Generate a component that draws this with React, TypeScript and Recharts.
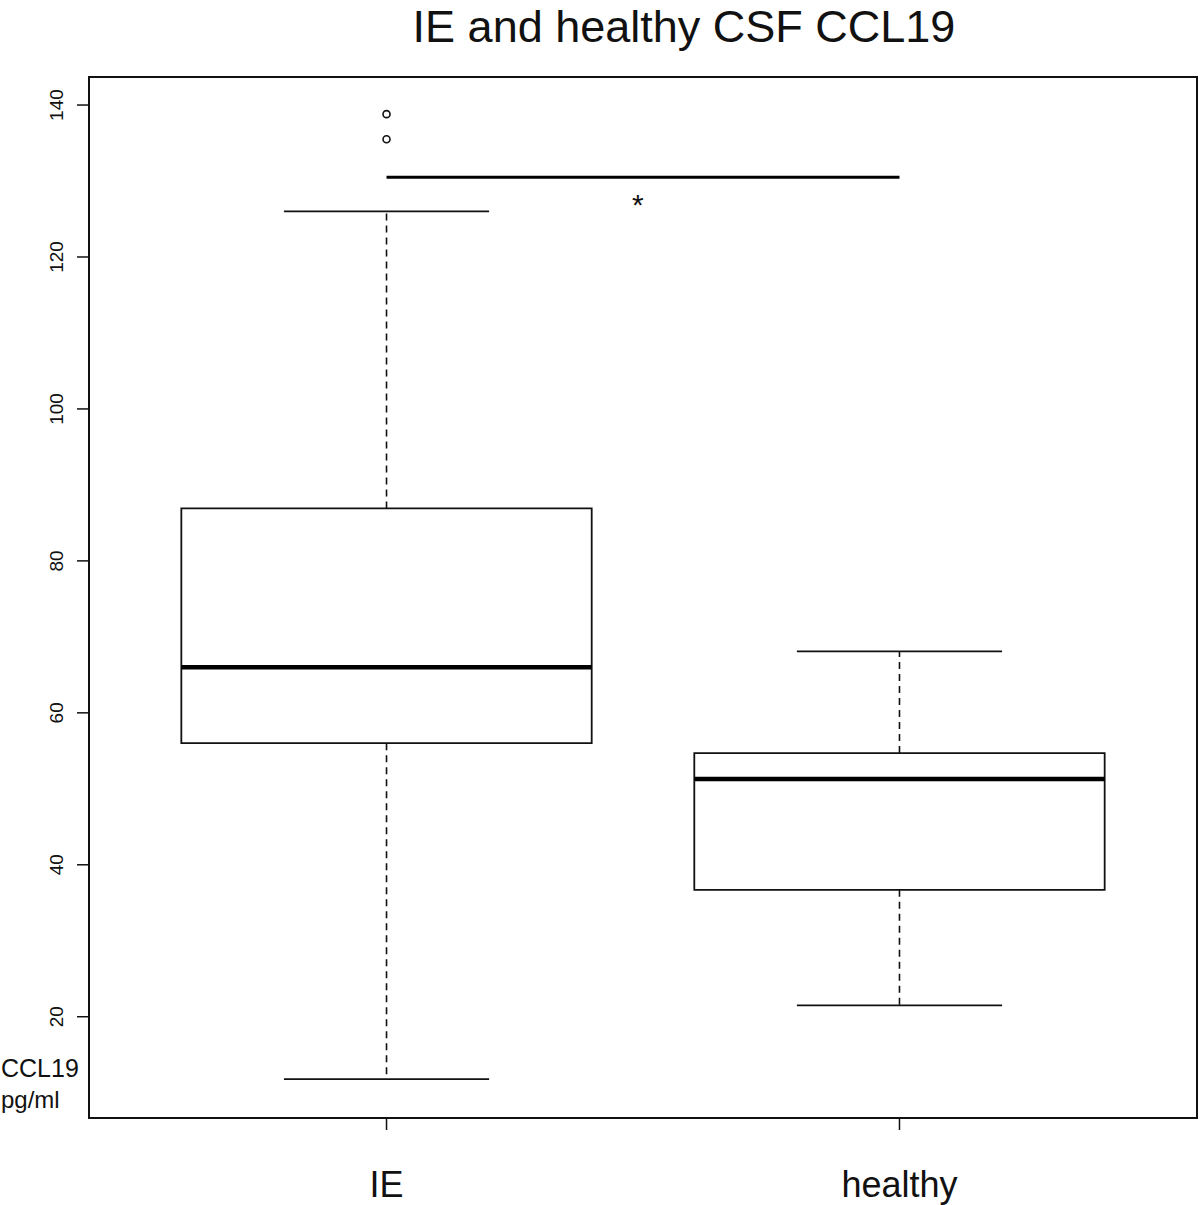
import React from 'react'
import {
  ComposedChart,
  XAxis,
  YAxis,
  Scatter,
  ReferenceArea,
  ReferenceLine,
  ReferenceDot
} from 'recharts'

// box statistics (pg/ml)
const categories = ['IE', 'healthy']
const positions = [1, 2]
const lowerWhisker = [11.8, 21.5]
const lowerQuartile = [56.0, 36.7]
const medians = [66.0, 51.3]
const upperQuartile = [86.9, 54.7]
const upperWhisker = [126.0, 68.1]
const outliers = [[138.8, 135.5], []]
const yTicks = [20, 40, 60, 80, 100, 120, 140]

// significance bar between the groups
const sigFrom = 1
const sigTo = 2
const sigValue = 130.5
const sigLabel = '*'

const X_DOMAIN = [0.42, 2.58]
const Y_DOMAIN = [6.67, 143.69]
const BOX_HALF = 0.4
const CAP_HALF = 0.2
const FONT = 'Liberation Sans, Arial, Helvetica, sans-serif'
const INK = '#111'

const outlierData = outliers.flatMap((vals, i) =>
  vals.map((v) => ({ x: positions[i], y: v }))
)

const YTick = (props: any) => {
  const { x, y, payload } = props
  const tx = x - 12
  return (
    <text
      x={tx}
      y={y}
      transform={`rotate(-90 ${tx} ${y})`}
      textAnchor='middle'
      fontSize={19}
      fontFamily={FONT}
      fill={INK}
    >
      {payload.value}
    </text>
  )
}

const XTick = (props: any) => {
  const { x, y, payload } = props
  return (
    <text
      x={x}
      y={y + 65}
      textAnchor='middle'
      fontSize={36}
      fontFamily={FONT}
      fill={INK}
    >
      {categories[payload.value - 1]}
    </text>
  )
}

const OpenCircle = (props: any) => {
  const { cx, cy } = props
  return <circle cx={cx} cy={cy} r={3.5} fill='none' stroke={INK} strokeWidth={1.6} />
}

export default function App() {
  return (
    <div style={{ position: 'absolute', left: 0, top: 0, width: 1200, height: 1205, background: '#fff' }}>
      <ComposedChart
        width={1200}
        height={1205}
        margin={{ top: 77, right: 3, bottom: 7, left: 9 }}
      >
        <XAxis
          type='number'
          dataKey='x'
          domain={X_DOMAIN}
          ticks={positions}
          allowDataOverflow
          axisLine={false}
          tickSize={12}
          tickLine={{ stroke: INK, strokeWidth: 1.5 }}
          tick={<XTick />}
          height={80}
        />
        <YAxis
          type='number'
          dataKey='y'
          domain={Y_DOMAIN}
          ticks={yTicks}
          allowDataOverflow
          axisLine={false}
          tickSize={12}
          tickLine={{ stroke: INK, strokeWidth: 1.5 }}
          tick={<YTick />}
          width={80}
        />
        <ReferenceArea
          x1={X_DOMAIN[0]}
          x2={X_DOMAIN[1]}
          y1={Y_DOMAIN[0]}
          y2={Y_DOMAIN[1]}
          fill='none'
          fillOpacity={0}
          stroke={INK}
          strokeWidth={2}
          ifOverflow='visible'
        />
        {positions.map((p, i) => (
          <ReferenceLine
            key={'wu' + i}
            segment={[{ x: p, y: upperQuartile[i] }, { x: p, y: upperWhisker[i] }]}
            stroke={INK}
            strokeWidth={1.6}
            strokeDasharray='7 5'
            ifOverflow='visible'
          />
        ))}
        {positions.map((p, i) => (
          <ReferenceLine
            key={'wl' + i}
            segment={[{ x: p, y: lowerQuartile[i] }, { x: p, y: lowerWhisker[i] }]}
            stroke={INK}
            strokeWidth={1.6}
            strokeDasharray='7 5'
            ifOverflow='visible'
          />
        ))}
        {positions.map((p, i) => (
          <ReferenceLine
            key={'cu' + i}
            segment={[{ x: p - CAP_HALF, y: upperWhisker[i] }, { x: p + CAP_HALF, y: upperWhisker[i] }]}
            stroke={INK}
            strokeWidth={1.8}
            ifOverflow='visible'
          />
        ))}
        {positions.map((p, i) => (
          <ReferenceLine
            key={'cl' + i}
            segment={[{ x: p - CAP_HALF, y: lowerWhisker[i] }, { x: p + CAP_HALF, y: lowerWhisker[i] }]}
            stroke={INK}
            strokeWidth={1.8}
            ifOverflow='visible'
          />
        ))}
        {positions.map((p, i) => (
          <ReferenceArea
            key={'box' + i}
            x1={p - BOX_HALF}
            x2={p + BOX_HALF}
            y1={lowerQuartile[i]}
            y2={upperQuartile[i]}
            fill='#fff'
            fillOpacity={1}
            stroke={INK}
            strokeWidth={1.8}
            ifOverflow='visible'
          />
        ))}
        {positions.map((p, i) => (
          <ReferenceLine
            key={'med' + i}
            segment={[{ x: p - BOX_HALF, y: medians[i] }, { x: p + BOX_HALF, y: medians[i] }]}
            stroke='#000'
            strokeWidth={4.5}
            ifOverflow='visible'
          />
        ))}
        <ReferenceLine
          segment={[{ x: sigFrom, y: sigValue }, { x: sigTo, y: sigValue }]}
          stroke='#000'
          strokeWidth={3}
          ifOverflow='visible'
        />
        <ReferenceDot
          x={(sigFrom + sigTo) / 2 - 0.01}
          y={sigValue}
          ifOverflow='visible'
          shape={(props: any) => (
            <text
              x={props.cx}
              y={props.cy + 38}
              textAnchor='middle'
              fontSize={30}
              fontFamily={FONT}
              fill={INK}
            >
              {sigLabel}
            </text>
          )}
        />
        <Scatter
          data={outlierData}
          dataKey='y'
          shape={<OpenCircle />}
          isAnimationActive={false}
        />
      </ComposedChart>
      <svg
        width={1200}
        height={1205}
        style={{ position: 'absolute', left: 0, top: 0, pointerEvents: 'none' }}
      >
        <text x={684} y={42} textAnchor='middle' fontSize={45} fontFamily={FONT} fill={INK}>
          IE and healthy CSF CCL19
        </text>
        <text x={1} y={1077} fontSize={25} fontFamily={FONT} fill={INK}>
          CCL19
        </text>
        <text x={1} y={1108} fontSize={24} fontFamily={FONT} fill={INK}>
          pg/ml
        </text>
      </svg>
    </div>
  )
}
